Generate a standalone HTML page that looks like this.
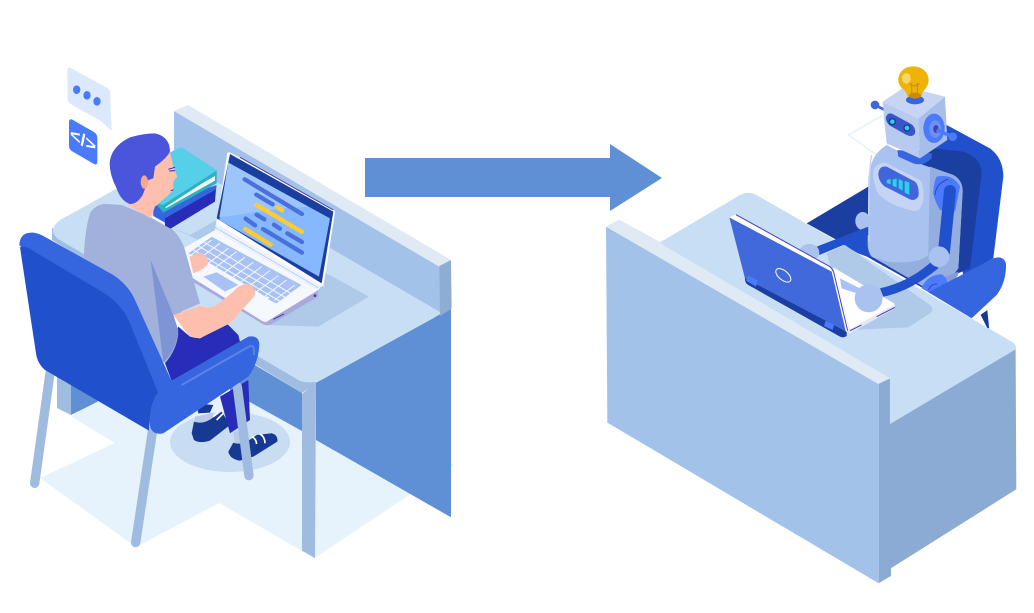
<!DOCTYPE html>
<html><head><meta charset="utf-8"><style>html,body{margin:0;padding:0;background:#fff}svg{display:block}</style></head><body>
<svg xmlns="http://www.w3.org/2000/svg" width="1034" height="613" viewBox="0 0 1034 613">
<defs>
<clipPath id="kb"><path d="M55 340L125 290L395 435L320 490L295 470L270 470L235 440L190 415L120 370L100 375Z"/></clipPath>
</defs>
<!-- LEFT: floor -->
<path d="M40 478L115 443L72 417L100 395L300 400L454 465L316 557L302 551L219 503L136 547Z" fill="#E6F2FC"/>
<ellipse cx="230" cy="442" rx="60" ry="30" fill="#C8DCF2"/>
<!-- back wall -->
<path d="M174 111L440 267V320L174 200Z" fill="#A3C2EA"/>
<path d="M174 111L188 105L451 260L440 267Z" fill="#DFEAF5"/>
<!-- under desk -->
<path d="M57 340H71V415L57 408Z" fill="#A0BCE0"/>
<path d="M71 370H120L97 402L71 415Z" fill="#5F8FD5"/>
<path d="M230 350L302 393V431L230 391Z" fill="#5F8FD5"/>
<g transform="translate(280,240) scale(.3333)">
<path d="M108 428L513 205V832L108 600Z" fill="#5F8FD5"/>
<path d="M66 462L108 425L105 955L66 932Z" fill="#9FBBDF"/>
<path d="M478 78L513 60L515 205L480 228Z" fill="#8FADD3"/>
</g>
<!-- desktop -->
<path d="M52 228V240L302 393L316 383L300 370Z" fill="#A0BCE0"/>
<path d="M60 220L174 157L440 312L451 308L325 378Q314 385 300 381L58 239Q47 230 60 220Z" fill="#C8DEF5"/>
<path d="M440 267L451 260V309L440 316Z" fill="#8FADD3"/>
<!-- laptop -->
<g transform="translate(170,140) scale(.3333)">
<path d="M470 400L597 470L445 560L285 555L150 330L0 260L60 285L140 240Z" fill="#AECAE8"/>
<path d="M-20 372L280 553Q292 558 305 552L445 470L445 450L135 270Z" fill="#A9A9DF"/>
<path d="M-20 360L135 270L445 450L290 545Q285 548 275 542Z" fill="#F5F8FF"/>
<path d="M135 270L140 235L460 430L445 450Z" fill="#EEF3FF"/>
<path d="M135 262L445 443" stroke="#A9C2F5" stroke-width="2" fill="none"/>
<path d="M172 38Q180 36 190 42L490 208Q496 212 494 225L460 440L140 250Z" fill="#fff"/>
<path d="M180 42L490 215L455 430L140 235Z" fill="#1B3FA0"/>
<path d="M210 52L490 210" stroke="#4A3FA8" stroke-width="3"/>
<path d="M175 68L480 235L447 410L148 240Z" fill="#85B8FF"/>
<path d="M175 68L415 200L340 205L148 232Z" fill="#9CC6FB"/>
<g stroke="#4A70DC" stroke-width="13" stroke-linecap="round" fill="none">
<path d="M224 118L396 222M259 164L308 193M260 224L283 238M227 236L255 256M312 254L330 266M352 280L396 306M279 267L396 338"/>
</g>
<g stroke="#FFCB2F" stroke-width="13" stroke-linecap="round" fill="none">
<path d="M322 202L336 211M260 195L396 276M226 267L302 314"/>
</g>
<g clip-path="url(#kb)">
<path d="M55 340L125 290L395 435L320 490L120 370Z" fill="#A9C2F5"/>
<g stroke="#F5F8FF" stroke-width="3" fill="none">
<path d="M100 305L370 465M85 318L345 472M70 330L330 484M55 342L320 496M40 355L300 510"/>
<path d="M125 300L60 348M150 310L85 358M175 325L110 373M200 335L135 383M225 352L160 400M250 367L185 415M275 380L210 428M300 392L235 440M325 407L260 455M350 420L285 468M375 435L310 483"/>
</g>
</g>
<path d="M100 410L140 397L205 435L165 455Z" fill="#A9C2F5"/>
<path d="M296 475L318 487" stroke="#A9C2F5" stroke-width="6"/>
<path d="M310 538L342 522" stroke="#3A3FA0" stroke-width="3"/>
<circle cx="435" cy="467" r="4" fill="#3A3FA0"/>
</g>
<!-- books -->
<g transform="translate(0,50) scale(.3333)">
<path d="M460 470L650 405L648 420L510 537L460 505Z" fill="#3565DF"/>
<path d="M455 495L495 518V530L455 505Z" fill="#F1F5FD"/>
<path d="M495 505L648 418L645 455L510 537L495 530Z" fill="#272DB8"/>
<path d="M470 465L650 372V400L490 488Z" fill="#2DB0BF"/>
<path d="M497 462L645 378V392L497 475Z" fill="#F4F8FC"/>
<path d="M440 340L540 293Q545 292 552 296L650 360V370L490 465L470 460Z" fill="#56D0E8"/>
<path d="M490 464L650 362V372L495 472Z" fill="#2DB0BF"/>
</g>
<!-- bubble + icon -->
<g transform="translate(0,50) scale(.3333)">
<path d="M202 58Q203 50 212 54L322 114Q330 118 330 128L335 243L305 215L212 162Q203 157 203 148Z" fill="#DCE9FD"/>
<ellipse cx="230" cy="119" rx="11" ry="13" fill="#4A7BFF"/>
<ellipse cx="261" cy="136" rx="11" ry="13" fill="#4A7BFF"/>
<ellipse cx="291" cy="154" rx="11" ry="13" fill="#4A7BFF"/>
<path d="M207 215Q208 205 217 209L280 245Q292 252 292 264V335Q292 347 282 342L218 305Q207 299 207 288Z" fill="#4A7BFF"/>
</g>
<text transform="matrix(1,.55,0,1,70,139)" font-family="Liberation Sans, sans-serif" font-size="18" font-weight="bold" fill="#fff">&lt;/&gt;</text>
<!-- person + chair, zoom 3 coordinates -->
<g transform="translate(0,220) scale(.3333)">
<!-- shoes -->
<path d="M585 590L640 578L640 612L585 618Z" fill="#BCC8EC"/>
<path d="M575 640L582 605Q610 615 640 592L665 575L690 615L630 662Q600 672 582 660Z" fill="#163A94"/>
<path d="M640 590L655 578M650 600L670 580" stroke="#fff" stroke-width="5" fill="none"/>
<path d="M590 550L640 555L630 578L595 580Z" fill="#163A94"/>
<path d="M660 530L745 480L750 600L690 640Z" fill="#272DB8"/>
<path d="M700 635L745 635L745 675L705 675Z" fill="#BCC8EC"/>
<path d="M685 695L700 668Q725 680 770 645L815 640Q835 645 832 665L760 710L720 722Q690 718 685 695Z" fill="#163A94"/>
<path d="M755 650Q768 655 770 672M780 642Q795 650 795 670" stroke="#fff" stroke-width="5" fill="none"/>
<!-- chair legs -->
<g stroke="#9FBBDF" stroke-width="28" stroke-linecap="round" fill="none">
<path d="M150 460L104 790M458 630L407 968M712 500L747 767"/>
</g>
<!-- torso -->
<path d="M535 320L570 350L600 355L680 310L715 345L720 365L515 483L495 430Z" fill="#272DB8"/>
<path d="M252 100Q255 30 270 -21Q290 -50 321 -48L366 -45L450 -9L519 30Q545 55 555 90L600 250L520 285L535 340Q530 390 495 430L260 180Z" fill="#A1B1DC"/>
<path d="M452 120L520 285L535 330Q530 390 490 427Z" fill="#7F94D5"/>
<path d="M520 285L600 258Q625 268 650 255L700 215Q725 185 752 195Q775 215 760 232L690 310L610 350Q585 360 565 345Z" fill="#FFBFAE"/>
<path d="M568 110L600 98Q625 105 625 128Q620 145 580 160Z" fill="#FFBFAE"/>
<!-- chair -->
<path d="M58 75Q60 35 100 38Q115 40 130 48L340 165Q385 195 405 240L515 483L745 350Q778 345 778 375Q775 430 745 470L490 640Q445 650 447 590Q450 545 475 520Z" fill="#3565DF"/>
<path d="M60 82Q75 75 95 90L305 215Q365 250 390 310L475 520Q447 545 447 632L135 450Q112 430 108 400Z" fill="#2050CC"/>
<path d="M545 495L750 378Q765 375 762 405" stroke="#5D83E6" stroke-width="6" fill="none"/>
</g>
<!-- head -->
<g transform="translate(0,50) scale(.3333)">
<path d="M460 330L510 305L520 350L532 380L520 395L520 420L505 435L465 470L452 505L382 465L420 440Z" fill="#FFBFAE"/>
<path d="M329 340Q332 290 390 262Q430 250 465 250Q510 260 510 305Q500 325 465 350L460 385L445 390L428 435Q412 462 390 462Q362 452 350 415Q329 375 329 340Z" fill="#4B55DB"/>
<ellipse cx="433" cy="396" rx="11" ry="20" fill="#F5A78F"/>
<path d="M505 358L525 352M508 363L525 362" stroke="#272DB8" stroke-width="3"/>
<path d="M512 420Q516 424 520 418" stroke="#272DB8" stroke-width="2.5" fill="none"/>
</g>
<!-- ARROW -->
<path d="M365 158H610V144L662 178L610 211V197H365Z" fill="#5F8FD5"/>
<!-- ROBOT zoom 4 coordinates -->
<g transform="translate(790,55) scale(.3333)">
<path d="M175 240L280 180L300 300L260 300Z" fill="#fff" stroke="#E6F2FC" stroke-width="5"/>
<path d="M470 210L600 280Q640 310 640 365L610 610L520 660L430 280Z" fill="#2050CC"/>
<path d="M50 505L235 395L300 300L430 280L520 290Q575 310 575 355L540 640L400 700L240 610Z" fill="#1B3FA0"/>
<path d="M160 570L235 525L245 610L190 590Z" fill="#2050CC"/>
<path d="M235 370Q240 300 290 270L400 330L490 360Q518 375 518 410L505 640Q480 680 420 700L245 605Q232 590 233 560Z" fill="#A9C2F0"/>
<path d="M420 335L490 360Q518 375 518 410L505 640Q480 680 400 695L245 605L290 620Q380 630 415 600Z" fill="#94AEE0"/>
<path d="M245 300Q235 340 237 560" stroke="#C5D3F5" stroke-width="4" fill="none"/>
<path d="M440 675L505 650V660L480 690L440 700Z" fill="#8A9AD8"/>
<path d="M250 370Q245 325 285 322L390 375Q402 390 400 430Q395 470 370 468Q290 450 260 410Z" fill="#C5D3F5"/>
<path d="M265 355Q268 332 290 335L375 380Q387 390 386 420Q380 440 360 433L285 395Q265 380 265 355Z" fill="#4166DB"/>
<path d="M290 375L302 372V388L290 384ZM308 374L320 370V398L308 392ZM326 372L338 378V407L326 400ZM344 378L358 382V420L344 413Z" fill="#27D3E8"/>
<ellipse cx="218" cy="498" rx="22" ry="27" fill="#A9C2F0"/>
<path d="M440 365Q490 355 510 395L495 470L450 465Q430 430 430 410Q432 380 440 365Z" fill="#4A7BFF"/>
<path d="M435 420Q438 385 475 372" stroke="#4A3FA8" stroke-width="3" fill="none"/>
<path d="M480 408L462 590" stroke="#2050CC" stroke-width="36" stroke-linecap="round" fill="none"/>
<path d="M395 700Q410 660 455 658Q475 670 470 690L430 720Z" fill="#4A7BFF"/>
<path d="M415 705Q425 685 442 688" stroke="#4A3FA8" stroke-width="3" fill="none"/>
<path d="M415 712L610 610Q640 600 648 625Q650 680 620 720L545 790Z" fill="#3565DF"/>
<path d="M575 780L595 820L590 770Z" fill="#163A94" stroke="#163A94" stroke-width="5"/>
<!-- neck -->
<path d="M322 285L425 295L425 310Q400 335 370 325L325 305Z" fill="#3565DF"/>
<!-- antenna -->
<circle cx="255" cy="150" r="13" fill="#4166DB"/>
<path d="M255 150L290 168" stroke="#4166DB" stroke-width="8"/>
<!-- head -->
<path d="M278 140L385 190L390 310L290 265Z" fill="#B9CAF1"/>
<path d="M385 190L465 125L472 255L390 310Z" fill="#A9BDEB"/>
<path d="M278 140L345 95L465 125L385 190Z" fill="#C8D4F4"/>
<path d="M288 185Q295 170 310 178L365 208Q378 218 375 235Q368 248 350 240L300 212Q285 200 288 185Z" fill="#3A55C8"/>
<circle cx="307" cy="200" r="9" fill="#27D3E8" stroke="#163A94" stroke-width="4"/>
<circle cx="351" cy="219" r="9" fill="#27D3E8" stroke="#163A94" stroke-width="4"/>
<ellipse cx="432" cy="220" rx="32" ry="44" fill="#4A7BFF"/>
<ellipse cx="436" cy="222" rx="18" ry="26" fill="#6E90F5"/>
<ellipse cx="438" cy="222" rx="8" ry="12" fill="#4A3FA8"/>
<path d="M440 225L488 245" stroke="#4A7BFF" stroke-width="11"/>
<circle cx="488" cy="245" r="13" fill="#4A7BFF"/>
<!-- bulb -->
<ellipse cx="375" cy="135" rx="27" ry="13" fill="#3565DF"/>
<path d="M370 34C400 34 416 55 416 75C416 100 395 105 395 125H352C352 105 325 100 325 75C325 55 340 34 370 34Z" fill="#EDB407"/>
<ellipse cx="349" cy="70" rx="13" ry="16" fill="#F7D66B"/>
<ellipse cx="375" cy="122" rx="18" ry="9" fill="#C98A0E"/>
<path d="M365 115V85M382 115V85M358 85Q372 100 388 85" stroke="#C98A0E" stroke-width="3" fill="none"/>
</g>
<!-- RIGHT DESK zoom 6 coordinates -->
<g transform="translate(595,180) scale(.3333)">
<path d="M195 187L435 45Q460 32 485 45L1250 485Q1268 498 1262 510L885 732V595L72 118Z" fill="#C8DEF5"/>
<path d="M885 732L1262 508L1264 928L888 1165V1188L851 1210V610L885 595Z" fill="#8CABD4"/>
<path d="M33 140L851 612V1210L37 728Z" fill="#A3C2EA"/>
<path d="M33 140L72 118L885 595L850 612Z" fill="#DFEAF5"/>
</g>
<!-- right laptop + arms over desk -->
<g transform="translate(700,190) scale(.3333)">
<path d="M380 190L435 165L690 345Q705 358 690 370L625 412L450 420Z" fill="#AECAE8"/>
</g>
<g transform="translate(790,55) scale(.3333)">
<path d="M235 515L80 575L88 600L160 570L235 540Z" fill="#2050CC"/>
<ellipse cx="58" cy="592" rx="30" ry="25" fill="#A9C2F0"/>
</g>
<g transform="translate(700,190) scale(.3333)">
<path d="M400 235L585 345V355L450 430L440 425Z" fill="#E6E6FA"/>
<path d="M400 232L585 342L450 418Z" fill="#fff"/>
<path d="M420 265L480 295L470 310L425 295Z" fill="#A9C2F5"/>
<path d="M450 422L485 405M530 380L585 352" stroke="#4A3FA8" stroke-width="3"/>
<path d="M135 262L440 425V438Q430 445 420 440L145 285Q133 278 135 262Z" fill="#1B3FA0"/>
<path d="M88 82L395 240L440 425L135 265Z" fill="#4169DC"/>
<path d="M88 82L105 74L392 232Q400 238 405 250L447 418L438 426L395 245Z" fill="#fff"/>
<path d="M108 74L390 230Q398 238 402 250L443 422" stroke="#4A3FA8" stroke-width="3" fill="none"/>
<ellipse cx="250" cy="256" rx="27" ry="14" transform="rotate(40 250 256)" fill="none" stroke="#fff" stroke-width="3"/>
<path d="M145 257L173 272L168 290L138 272Z" fill="#4A7BFF"/>
<path d="M377 392L402 405L398 420L372 408Z" fill="#4A7BFF"/>
</g>
<g transform="translate(790,55) scale(.3333)">
<path d="M270 700Q360 680 430 615L445 640Q360 710 280 725Z" fill="#2050CC"/>
<circle cx="447" cy="605" r="31" fill="#A9C2F0"/>
<ellipse cx="236" cy="730" rx="42" ry="42" fill="#A9C2F0"/>
</g>
</svg>
</body></html>
